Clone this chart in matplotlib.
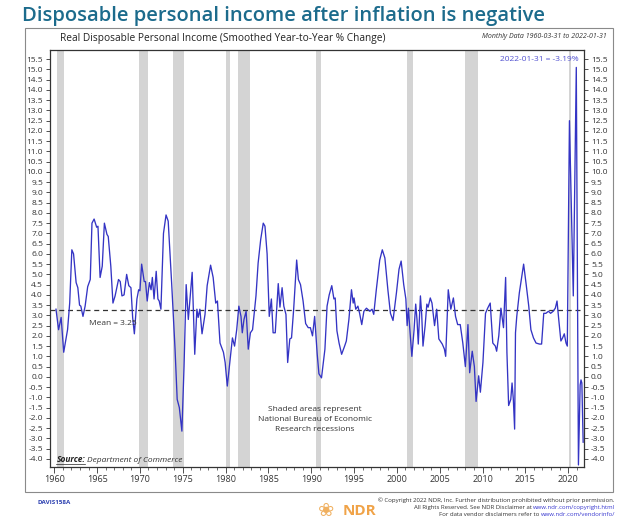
import matplotlib
matplotlib.use("Agg")
import matplotlib.pyplot as plt
from matplotlib.patches import Rectangle
from matplotlib.ticker import MultipleLocator, FormatStrFormatter

plt.rcParams['font.family'] = ['Open Sans', 'DejaVu Sans']

# Real disposable personal income, smoothed yoy % change
years = [
    1960.2, 1960.5, 1960.8, 1961.1, 1961.55, 1961.8, 1962.05, 1962.25, 1962.55, 1962.75,
    1962.95, 1963.1, 1963.35, 1963.6, 1963.9, 1964.2, 1964.4, 1964.65, 1964.95, 1965.1,
    1965.35, 1965.6, 1965.85, 1966.15, 1966.3, 1966.6, 1966.85, 1967.1, 1967.5, 1967.7,
    1967.9, 1968.15, 1968.45, 1968.7, 1968.95, 1969.15, 1969.35, 1969.65, 1969.85, 1970.0,
    1970.2, 1970.5, 1970.65, 1970.85, 1971.1, 1971.3, 1971.45, 1971.65, 1971.9, 1972.1,
    1972.25, 1972.45, 1972.75, 1973.05, 1973.3, 1973.7, 1974.1, 1974.35, 1974.6, 1974.9,
    1975.15, 1975.4, 1975.65, 1975.85, 1976.1, 1976.4, 1976.65, 1976.8, 1977.0, 1977.25,
    1977.6, 1977.85, 1978.25, 1978.55, 1978.85, 1979.05, 1979.35, 1979.75, 1979.95, 1980.2,
    1980.5, 1980.8, 1981.05, 1981.3, 1981.55, 1981.8, 1981.95, 1982.15, 1982.4, 1982.65,
    1982.9, 1983.15, 1983.55, 1983.8, 1984.1, 1984.4, 1984.6, 1984.85, 1985.1, 1985.35,
    1985.55, 1985.8, 1986.15, 1986.35, 1986.6, 1986.8, 1987.05, 1987.25, 1987.5, 1987.7,
    1987.95, 1988.3, 1988.5, 1988.75, 1989.05, 1989.35, 1989.65, 1989.9, 1990.15, 1990.4,
    1990.7, 1990.9, 1991.2, 1991.6, 1991.85, 1992.1, 1992.4, 1992.65, 1992.8, 1993.0,
    1993.25, 1993.55, 1993.9, 1994.1, 1994.4, 1994.7, 1994.9, 1995.0, 1995.2, 1995.45,
    1995.65, 1995.9, 1996.15, 1996.45, 1996.85, 1997.1, 1997.3, 1997.6, 1998.0, 1998.3,
    1998.6, 1998.95, 1999.25, 1999.55, 1999.95, 2000.25, 2000.5, 2000.8, 2001.05, 2001.2,
    2001.35, 2001.5, 2001.75, 2002.0, 2002.2, 2002.35, 2002.5, 2002.75, 2002.9, 2003.05,
    2003.3, 2003.5, 2003.65, 2003.9, 2004.1, 2004.4, 2004.65, 2004.9, 2005.3, 2005.55,
    2005.7, 2006.0, 2006.3, 2006.6, 2006.85, 2007.1, 2007.4, 2007.7, 2008.0, 2008.3,
    2008.5, 2008.8, 2009.05, 2009.25, 2009.55, 2009.75, 2010.05, 2010.35, 2010.6, 2010.9,
    2011.2, 2011.5, 2011.65, 2011.9, 2012.15, 2012.45, 2012.7, 2012.85, 2013.05, 2013.3,
    2013.45, 2013.6, 2013.75, 2013.85, 2014.0, 2014.3, 2014.8, 2015.1, 2015.4, 2015.65,
    2015.95, 2016.25, 2016.65, 2016.9, 2017.15, 2017.4, 2017.7, 2017.95, 2018.25, 2018.5,
    2018.7, 2018.9, 2019.15, 2019.35, 2019.55, 2019.75, 2019.9, 2020.15, 2020.6, 2020.95,
    2021.2, 2021.4, 2021.5, 2021.6, 2021.75,
]
values = [
    3.3, 2.3, 2.9, 1.2, 2.3, 3.6, 6.2, 6.0, 4.6, 4.35,
    3.5, 3.45, 2.95, 3.45, 4.4, 4.75, 7.5, 7.7, 7.3, 7.35,
    4.85, 5.4, 7.5, 6.95, 6.85, 5.4, 3.6, 3.95, 4.75, 4.65,
    3.95, 4.0, 5.0, 4.45, 4.35, 2.9, 2.1, 3.8, 4.25, 4.2,
    5.5, 4.65, 4.65, 3.7, 4.6, 4.25, 4.85, 3.8, 5.15, 3.8,
    3.7, 3.3, 7.0, 7.9, 7.6, 4.6, 1.35, -1.1, -1.5, -2.65,
    0.5, 4.5, 2.8, 3.8, 5.1, 1.1, 3.3, 2.9, 3.3, 2.1,
    3.05, 4.45, 5.45, 4.85, 3.6, 3.7, 1.65, 1.2, 0.7, -0.45,
    0.7, 1.9, 1.5, 2.3, 3.45, 2.95, 2.15, 2.8, 3.2, 1.35,
    2.15, 2.3, 3.95, 5.55, 6.7, 7.5, 7.35, 6.0, 2.95, 3.8,
    2.15, 2.15, 4.55, 3.4, 4.35, 3.45, 3.05, 0.7, 1.85, 1.9,
    3.3, 5.7, 4.75, 4.5, 3.7, 2.6, 2.4, 2.4, 2.0, 2.95,
    1.1, 0.15, -0.05, 1.35, 3.45, 4.0, 4.45, 3.8, 3.85, 2.25,
    1.65, 1.1, 1.5, 1.75, 2.8, 4.25, 3.6, 3.85, 3.3, 3.45,
    3.1, 2.55, 3.2, 3.35, 3.2, 3.3, 3.05, 4.25, 5.7, 6.2,
    5.8, 4.25, 3.1, 2.75, 4.1, 5.25, 5.65, 4.5, 3.8, 2.5,
    3.35, 2.4, 1.0, 2.25, 3.55, 2.8, 1.6, 3.95, 3.05, 1.5,
    2.5, 3.55, 3.4, 3.85, 3.6, 2.5, 3.3, 1.85, 1.6, 1.35,
    1.0, 4.25, 3.3, 3.85, 2.95, 2.55, 2.55, 1.65, 0.5, 2.55,
    0.2, 1.25, 0.5, -1.2, 0.05, -0.75, 0.7, 3.1, 3.35, 3.6,
    1.65, 1.5, 1.25, 2.0, 3.35, 2.4, 4.85, 1.2, -1.4, -1.1,
    -0.3, -1.1, -2.55, 2.15, 2.95, 4.1, 5.5, 4.5, 3.45, 2.3,
    1.9, 1.65, 1.6, 1.6, 3.1, 3.1, 3.2, 3.1, 3.2, 3.35,
    3.7, 2.8, 1.75, 1.9, 2.1, 1.65, 1.5, 12.5, 3.95, 15.1,
    -4.3, -0.4, -0.15, -0.3, -3.19,
]

recession_start = [1960.3, 1969.9, 1973.9, 1980.0, 1981.5, 1990.6, 2001.2, 2007.9, 2020.1]
recession_end = [1961.1, 1970.9, 1975.2, 1980.5, 1982.9, 1991.2, 2001.9, 2009.5, 2020.3]
mean_value = 3.25

W, H = 630, 526
fig = plt.figure(figsize=(6.3, 5.26), dpi=100)


def fx(x):
    return x / W


def fy(y):
    return 1 - y / H


# outer frame
fig.add_artist(Rectangle((fx(25), fy(492)), (613 - 25) / W, (492 - 28) / H,
                         transform=fig.transFigure, fill=False, ec='#8a8a8a', lw=0.8))

ax = fig.add_axes([fx(50), fy(467), (584 - 50) / W, (467 - 50) / H])

for s, e in zip(recession_start, recession_end):
    ax.axvspan(s, e, color='#d4d4d4', lw=0, zorder=0)

ax.axhline(mean_value, color='#333333', ls=(0, (4, 3)), lw=0.9, zorder=1)
ax.plot(years, values, color='#3434c4', lw=0.95, zorder=2)

ax.set_xlim(1959.5, 2021.85)
ax.set_ylim(-4.4, 15.95)
ax.yaxis.set_major_locator(MultipleLocator(0.5))
ax.yaxis.set_major_formatter(FormatStrFormatter('%.1f'))
ax.xaxis.set_major_locator(MultipleLocator(5))
ax.xaxis.set_minor_locator(MultipleLocator(1))
ax.tick_params(axis='y', which='both', direction='out', length=3, width=0.6,
               labelsize=6, colors='#333333', left=True, right=True,
               labelleft=True, labelright=True, pad=2)
ax.tick_params(axis='x', which='major', direction='out', length=4, width=0.6,
               labelsize=6.5, colors='#333333', pad=2)
ax.tick_params(axis='x', which='minor', direction='out', length=2, width=0.5,
               colors='#333333')
for sp in ax.spines.values():
    sp.set_color('#333333')
    sp.set_linewidth(0.9)

ax.text(1964.0, 2.6, 'Mean = 3.25', fontsize=6, color='#333333', ha='left', va='center')
ax.text(1990.4, -2.1, 'Shaded areas represent\nNational Bureau of Economic\nResearch recessions',
        fontsize=6, color='#333333', ha='center', va='center', linespacing=1.6)
ax.text(0.99, 0.985, '2022-01-31 = -3.19%', transform=ax.transAxes, fontsize=6,
        color='#5252d0', ha='right', va='top')
src = ax.text(0.012, 0.008, 'Source:', transform=ax.transAxes, fontsize=6, fontweight='bold',
              fontstyle='italic', color='#222222', ha='left', va='bottom')
ax.text(0.07, 0.008, 'Department of Commerce', transform=ax.transAxes, fontsize=6,
        fontstyle='italic', color='#333333', ha='left', va='bottom')

# headings
fig.text(fx(22), fy(16), 'Disposable personal income after inflation is negative',
         fontsize=14.5, fontweight='semibold', color='#1c6b8c', ha='left', va='center')
fig.text(fx(60), fy(38), 'Real Disposable Personal Income (Smoothed Year-to-Year % Change)',
         fontsize=7.3, color='#222222', ha='left', va='center')
fig.text(fx(607), fy(36), 'Monthly Data 1960-03-31 to 2022-01-31', fontsize=5,
         fontstyle='italic', color='#333333', ha='right', va='center')

# footer
fig.text(fx(37), fy(503), 'DAVIS158A', fontsize=4.5, fontweight='bold', color='#2b3fb0',
         ha='left', va='center')
fig.text(fx(343), fy(511), 'NDR', fontsize=11, fontweight='bold', color='#f0a348',
         ha='left', va='center')
fig.text(fx(326), fy(510), '\u2740', fontsize=14, color='#f0b060', ha='center', va='center',
         family=['DejaVu Sans'])

fig.canvas.draw()
rend = fig.canvas.get_renderer()
foot = [
    ('\u00a9 Copyright 2022 NDR, Inc. Further distribution prohibited without prior permission.', '', 500),
    ('All Rights Reserved. See NDR Disclaimer at ', 'www.ndr.com/copyright.html', 507.5),
    ('For data vendor disclaimers refer to ', 'www.ndr.com/vendorinfo/', 515),
]
for plain, link, y in foot:
    x_right = fx(615)
    if link:
        t = fig.text(x_right, fy(y), link, fontsize=4.3, color='#3a3ad0', ha='right', va='center')
        bb = t.get_window_extent(rend)
        x_right = bb.x0 / fig.bbox.width
    fig.text(x_right, fy(y), plain, fontsize=4.3, color='#333333', ha='right', va='center')

# underline under the source note
bb = src.get_window_extent(rend)
fig.add_artist(plt.Line2D([bb.x0 / fig.bbox.width, bb.x1 / fig.bbox.width],
                          [bb.y0 / fig.bbox.height] * 2, transform=fig.transFigure,
                          color='#222222', lw=0.5))

fig.savefig('out.png', dpi=100)
